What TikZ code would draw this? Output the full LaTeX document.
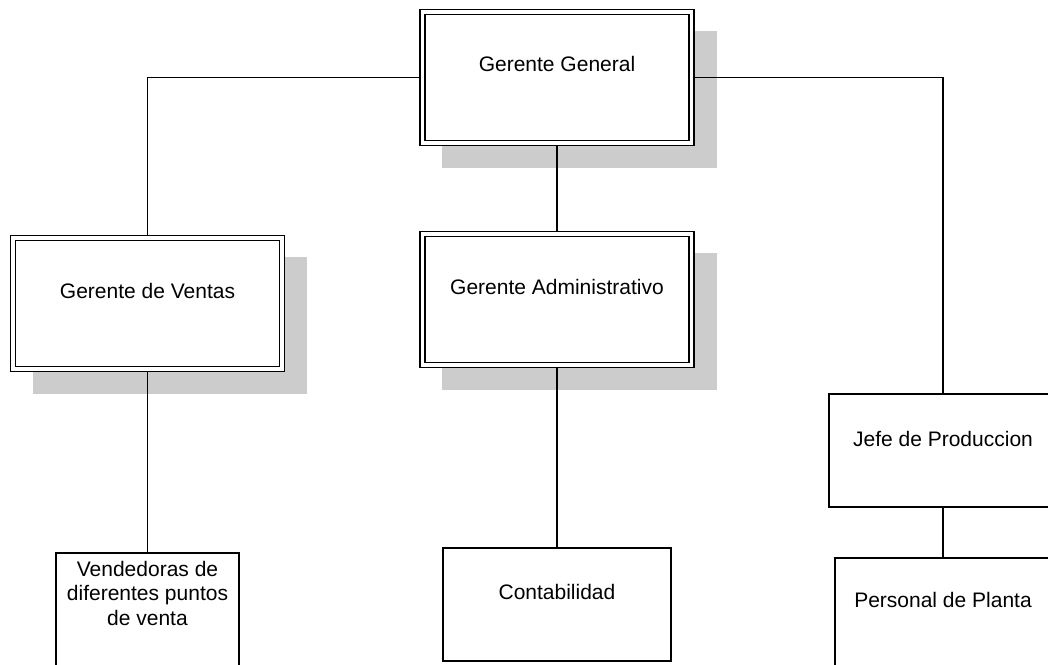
\documentclass[tikz,border=0pt]{standalone}
\usepackage{fontspec}
\setmainfont{Liberation Sans}
\usetikzlibrary{calc,backgrounds}
\definecolor{shadowgray}{RGB}{204,204,204}
\begin{document}
\begin{tikzpicture}[x=1pt,y=-1pt,
  dbox/.style={draw, line width=1.4pt, double=white, double distance=3.6pt, fill=white, inner sep=0pt, outer sep=3.2pt},
  pbox/.style={draw, line width=1.5pt, fill=white, inner sep=0pt},
  lbl/.style={anchor=base, font=\fontsize{21}{24.8}\selectfont, align=center, inner sep=0pt},
  conn/.style={draw, line width=1.5pt},
  shadowbox/.style={fill=shadowgray}]
\useasboundingbox (0,0) rectangle (1048,664);
\clip (0,0) rectangle (1048,664);
% boxes
\node[dbox, minimum width=269pt, minimum height=131pt] (GG) at (557,77.5) {};
\node[dbox, minimum width=268.5pt, minimum height=131.5pt] (GV) at (147.5,303.5) {};
\node[dbox, minimum width=269pt, minimum height=131pt] (GA) at (557,299.5) {};
\node[pbox, minimum width=228pt, minimum height=113pt] (JP) at (943,450.5) {};
\node[pbox, minimum width=216pt, minimum height=113pt] (PP) at (943,614.5) {};
\node[pbox, minimum width=183pt, minimum height=113pt] (VD) at (147.5,609.5) {};
\node[pbox, minimum width=228pt, minimum height=113pt] (CO) at (557,604.5) {};
% shadows
\begin{pgfonlayer}{background}
\fill[shadowbox] ($(GG.north west)+(22.5,22)$) rectangle ($(GG.south east)+(22.5,22)$);
\fill[shadowbox] ($(GV.north west)+(22.5,22)$) rectangle ($(GV.south east)+(22.5,22)$);
\fill[shadowbox] ($(GA.north west)+(22.5,22)$) rectangle ($(GA.south east)+(22.5,22)$);
\end{pgfonlayer}
% texts
\node[lbl] (GGt) at ($(GG.center)+(0,-6.5)$) {Gerente General};
\node[lbl] (GVt) at ($(GV.center)+(0,-5.5)$) {Gerente de Ventas};
\node[lbl] (GAt) at ($(GA.center)+(0,-5.5)$) {Gerente Administrativo};
\node[lbl] (JPt) at ($(JP.center)+(0,-4.5)$) {Jefe de Produccion};
\node[lbl] (PPt) at ($(PP.center)+(0,-7.5)$) {Personal de Planta};
\node[lbl] (COt) at ($(CO.center)+(0,-5.5)$) {Contabilidad};
\node[lbl] (VDt) at ($(VD.north)+(0,73.5)$) {Vendedoras de\\diferentes puntos\\de venta};
% connectors
\draw[conn] (GG.west) -| (GV.north);
\draw[conn] (GG.east) -| (JP.north);
\draw[conn] (GG.south) -- (GA.north);
\draw[conn] (GV.south) -- (VD.north);
\draw[conn] (GA.south) -- (CO.north);
\draw[conn] (JP.south) -- (PP.north);
\end{tikzpicture}
\end{document}
